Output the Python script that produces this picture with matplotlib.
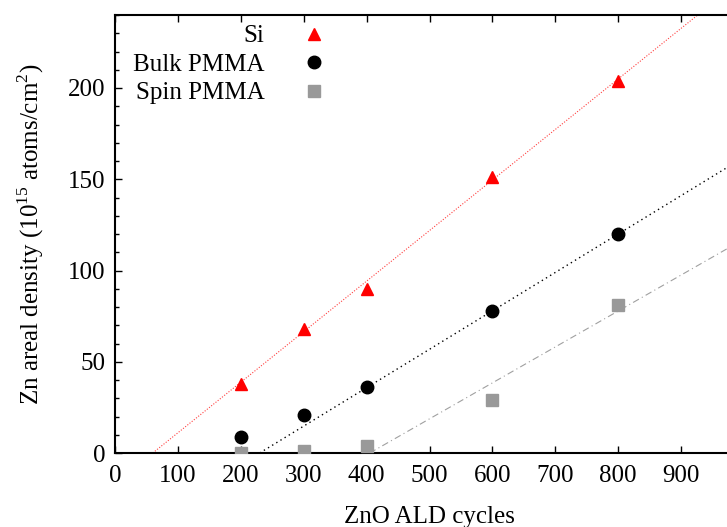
import matplotlib
matplotlib.use("Agg")
import matplotlib.pyplot as plt
from matplotlib.ticker import MultipleLocator
import numpy as np

plt.rcParams['font.family'] = ['Liberation Serif', 'DejaVu Serif']
plt.rcParams['mathtext.fontset'] = 'custom'
plt.rcParams['mathtext.rm'] = 'Liberation Serif'

# ALD cycles and measured Zn areal density (1e15 atoms/cm2)
cycles = [200, 300, 400, 600, 800]
si = [38, 68, 90, 151, 204]
bulk_pmma = [9, 21, 36, 78, 120]
spin_pmma = [0, 1, 4, 29, 81]

# linear fits: slope, x-intercept (cycles)
si_fit = (0.277, 60)
bulk_fit = (0.2105, 230)
spin_fit = (0.197, 405)

fs = 18

fig = plt.figure(figsize=(7.27, 5.27), dpi=100)
ax = fig.add_axes([115/727, 74/527, 629/727, 438/527])

def fit_line(fit, color, ls, lw):
  slope, x0 = fit
  xs = np.array([x0, 1000])
  ax.plot(xs, slope*(xs - x0), color=color, linestyle=ls, linewidth=lw, zorder=1)

fit_line(si_fit, '#ff4040', (0, (1, 1.5)), 0.8)
fit_line(bulk_fit, 'black', (0, (1, 2.5)), 1.0)
fit_line(spin_fit, '#a0a0a0', (0, (6, 3, 1, 3)), 0.8)

ax.plot(cycles, si, linestyle='none', marker='^', color='red', markersize=8, label='Si', zorder=3)
ax.plot(cycles, bulk_pmma, linestyle='none', marker='o', color='black', markersize=9, label='Bulk PMMA', zorder=3)
ax.plot(cycles, spin_pmma, linestyle='none', marker='s', color='#999999', markersize=8.5, label='Spin PMMA', zorder=3)

ax.set_xlim(0, 1000)
ax.set_ylim(0, 240)
ax.yaxis.set_major_locator(MultipleLocator(50))
ax.yaxis.set_minor_locator(MultipleLocator(10))
ax.set_xticks(range(0, 1000, 100))

ax.tick_params(which='both', direction='in', top=True, right=True, labelsize=fs, width=1)
ax.tick_params(which='major', length=5)
ax.tick_params(axis='x', pad=9)
ax.tick_params(axis='y', pad=7)
ax.tick_params(which='minor', length=3)
for s in ax.spines.values():
  s.set_linewidth(1.5)

ax.set_xlabel('ZnO ALD cycles', fontsize=fs, labelpad=13)
ax.set_ylabel('Zn areal density (10$^{15}$ atoms/cm$^{2}$)', fontsize=fs, labelpad=16)

ax.legend(loc='upper left', bbox_to_anchor=(0.0125, 1.0), frameon=False, markerfirst=False,
          fontsize=fs, handlelength=1.0, handletextpad=1.5, labelspacing=0.24, borderaxespad=0.0)

fig.savefig('out.png', dpi=100)
